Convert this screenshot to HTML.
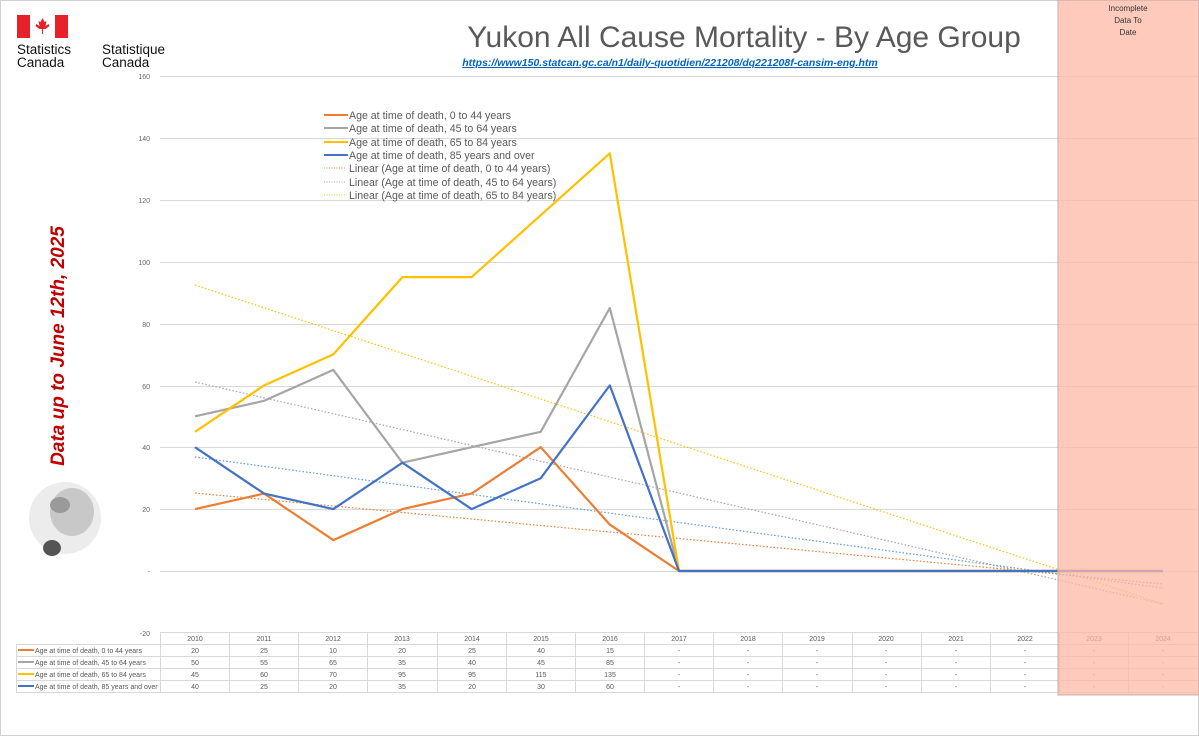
<!DOCTYPE html>
<html><head><meta charset="utf-8"><style>
body{margin:0;background:#fff;}
svg{display:block;font-family:"Liberation Sans",sans-serif;}
</style></head><body>
<svg width="1199" height="736" viewBox="0 0 1199 736" xmlns="http://www.w3.org/2000/svg">
<rect x="0.5" y="0.5" width="1198" height="735" fill="#fff" stroke="#d0d0d0"/>
<!-- logo -->
<rect x="17" y="15" width="13" height="23" fill="#e8202a"/><rect x="55" y="15" width="13" height="23" fill="#e8202a"/>
<path d="M42.5 18 l2 4 2-1 -1 5 3-2 1 2 -4 3 h-2.5 v5 h-1 v-5 h-2.5 l-4-3 1-2 3 2 -1-5 2 1z" fill="#e8202a"/>
<text font-size="13.5" fill="#111"><tspan x="17" y="54">Statistics</tspan><tspan x="17" y="67">Canada</tspan><tspan x="102" y="54">Statistique</tspan><tspan x="102" y="67">Canada</tspan></text>
<text x="744" y="47" font-size="30" fill="#595959" text-anchor="middle">Yukon All Cause Mortality - By Age Group</text>
<text x="670" y="66" font-size="10.5" fill="#0563c1" font-style="italic" font-weight="bold" text-anchor="middle" text-decoration="underline">https://www150.statcan.gc.ca/n1/daily-quotidien/221208/dq221208f-cansim-eng.htm</text>
<text transform="translate(64,346) rotate(-90)" font-size="19" fill="#c00000" font-weight="bold" font-style="italic" text-anchor="middle">Data up to June 12th, 2025</text>
<!-- wolf placeholder -->
<ellipse cx="65" cy="518" rx="36" ry="36" fill="#ececec"/><ellipse cx="72" cy="512" rx="22" ry="24" fill="#c8c8c8"/><ellipse cx="60" cy="505" rx="10" ry="8" fill="#9a9a9a"/><ellipse cx="52" cy="548" rx="9" ry="8" fill="#555"/>
<!-- grid -->
<g stroke="#d9d9d9" stroke-width="1">
<line x1="160" y1="76.5" x2="1199" y2="76.5"/><line x1="160" y1="138.5" x2="1199" y2="138.5"/><line x1="160" y1="200.5" x2="1199" y2="200.5"/><line x1="160" y1="262.5" x2="1199" y2="262.5"/><line x1="160" y1="324.5" x2="1199" y2="324.5"/><line x1="160" y1="386.5" x2="1199" y2="386.5"/><line x1="160" y1="447.5" x2="1199" y2="447.5"/><line x1="160" y1="509.5" x2="1199" y2="509.5"/><line x1="160" y1="571.5" x2="1199" y2="571.5"/>
</g>
<g font-size="7" fill="#666" text-anchor="end">
<text x="150" y="79">160</text><text x="150" y="141">140</text><text x="150" y="203">120</text><text x="150" y="265">100</text><text x="150" y="327">80</text><text x="150" y="389">60</text><text x="150" y="450">40</text><text x="150" y="512">20</text><text x="150" y="574">-</text><text x="150" y="636">-20</text>
</g>
<!-- trends -->
<g stroke-width="1.2" stroke-dasharray="1.5,2" fill="none">
<line x1="195" y1="493" x2="1163" y2="584" stroke="#ed7d31"/>
<line x1="195" y1="382" x2="1163" y2="604" stroke="#a5a5a5"/>
<line x1="195" y1="285" x2="1163" y2="604" stroke="#ffc000"/>
<line x1="195" y1="457" x2="1163" y2="588" stroke="#5b9bd5"/>
</g>
<g fill="none" stroke-width="2.2" stroke-linejoin="round">
<polyline stroke="#ed7d31" points="195,509.1 264.1,493.6 333.3,540.1 402.4,509.1 471.6,493.6 540.7,447.2 609.8,524.6 679,571 1163,571"/>
<polyline stroke="#a5a5a5" points="195,416.3 264.1,400.8 333.3,369.9 402.4,462.7 471.6,447.2 540.7,431.8 609.8,308 679,571 1163,571"/>
<polyline stroke="#ffc000" points="195,431.8 264.1,385.4 333.3,354.4 402.4,277.1 471.6,277.1 540.7,215.2 609.8,153.3 679,571 1163,571"/>
<polyline stroke="#4472c4" points="195,447.2 264.1,493.6 333.3,509.1 402.4,462.7 471.6,509.1 540.7,478.2 609.8,385.4 679,571 1163,571"/>
</g>
<!-- legend -->
<g font-size="10.6" fill="#595959">
<line x1="324" y1="115" x2="348" y2="115" stroke="#ed7d31" stroke-width="2"/><text x="349" y="119">Age at time of death, 0 to 44 years</text>
<line x1="324" y1="128" x2="348" y2="128" stroke="#a5a5a5" stroke-width="2"/><text x="349" y="132">Age at time of death, 45 to 64 years</text>
<line x1="324" y1="142" x2="348" y2="142" stroke="#ffc000" stroke-width="2"/><text x="349" y="146">Age at time of death, 65 to 84 years</text>
<line x1="324" y1="155" x2="348" y2="155" stroke="#4472c4" stroke-width="2"/><text x="349" y="159">Age at time of death, 85 years and over</text>
<line x1="324" y1="168" x2="346" y2="168" stroke="#ed7d31" stroke-dasharray="1,1.5"/><text x="349" y="172">Linear (Age at time of death, 0 to 44 years)</text>
<line x1="324" y1="182" x2="346" y2="182" stroke="#a5a5a5" stroke-dasharray="1,1.5"/><text x="349" y="186">Linear (Age at time of death, 45 to 64 years)</text>
<line x1="324" y1="195" x2="346" y2="195" stroke="#ffc000" stroke-dasharray="1,1.5"/><text x="349" y="199">Linear (Age at time of death, 65 to 84 years)</text>
</g>
<!-- table -->
<g stroke="#d9d9d9" stroke-width="1">
<line x1="160" y1="632.5" x2="1198" y2="632.5"/>
<line x1="16" y1="644.5" x2="1198" y2="644.5"/><line x1="16" y1="656.5" x2="1198" y2="656.5"/><line x1="16" y1="668.5" x2="1198" y2="668.5"/><line x1="16" y1="680.5" x2="1198" y2="680.5"/><line x1="16" y1="692.5" x2="1198" y2="692.5"/>
<line x1="16.5" y1="644" x2="16.5" y2="693"/>
<line x1="160.5" y1="632" x2="160.5" y2="693"/><line x1="229.5" y1="632" x2="229.5" y2="693"/><line x1="298.5" y1="632" x2="298.5" y2="693"/><line x1="367.5" y1="632" x2="367.5" y2="693"/><line x1="437.5" y1="632" x2="437.5" y2="693"/><line x1="506.5" y1="632" x2="506.5" y2="693"/><line x1="575.5" y1="632" x2="575.5" y2="693"/><line x1="644.5" y1="632" x2="644.5" y2="693"/><line x1="713.5" y1="632" x2="713.5" y2="693"/><line x1="782.5" y1="632" x2="782.5" y2="693"/><line x1="852.5" y1="632" x2="852.5" y2="693"/><line x1="921.5" y1="632" x2="921.5" y2="693"/><line x1="990.5" y1="632" x2="990.5" y2="693"/><line x1="1059.5" y1="632" x2="1059.5" y2="693"/><line x1="1128.5" y1="632" x2="1128.5" y2="693"/>
</g>
<g stroke-width="2"><line x1="18" y1="650" x2="34" y2="650" stroke="#ed7d31"/><line x1="18" y1="662" x2="34" y2="662" stroke="#a5a5a5"/><line x1="18" y1="674" x2="34" y2="674" stroke="#ffc000"/><line x1="18" y1="686" x2="34" y2="686" stroke="#4472c4"/></g>
<g font-size="7" fill="#595959">
<text x="35" y="653">Age at time of death, 0 to 44 years</text><text x="35" y="665">Age at time of death, 45 to 64 years</text><text x="35" y="677">Age at time of death, 65 to 84 years</text><text x="35" y="689">Age at time of death, 85 years and over</text>
</g>
<g font-size="7" fill="#595959" text-anchor="middle">
<text y="641"><tspan x="195">2010</tspan><tspan x="264">2011</tspan><tspan x="333">2012</tspan><tspan x="402">2013</tspan><tspan x="472">2014</tspan><tspan x="541">2015</tspan><tspan x="610">2016</tspan><tspan x="679">2017</tspan><tspan x="748">2018</tspan><tspan x="817">2019</tspan><tspan x="886">2020</tspan><tspan x="956">2021</tspan><tspan x="1025">2022</tspan><tspan x="1094">2023</tspan><tspan x="1163">2024</tspan></text>
<text y="653"><tspan x="195">20</tspan><tspan x="264">25</tspan><tspan x="333">10</tspan><tspan x="402">20</tspan><tspan x="472">25</tspan><tspan x="541">40</tspan><tspan x="610">15</tspan><tspan x="679">-</tspan><tspan x="748">-</tspan><tspan x="817">-</tspan><tspan x="886">-</tspan><tspan x="956">-</tspan><tspan x="1025">-</tspan><tspan x="1094">-</tspan><tspan x="1163">-</tspan></text>
<text y="665"><tspan x="195">50</tspan><tspan x="264">55</tspan><tspan x="333">65</tspan><tspan x="402">35</tspan><tspan x="472">40</tspan><tspan x="541">45</tspan><tspan x="610">85</tspan><tspan x="679">-</tspan><tspan x="748">-</tspan><tspan x="817">-</tspan><tspan x="886">-</tspan><tspan x="956">-</tspan><tspan x="1025">-</tspan><tspan x="1094">-</tspan><tspan x="1163">-</tspan></text>
<text y="677"><tspan x="195">45</tspan><tspan x="264">60</tspan><tspan x="333">70</tspan><tspan x="402">95</tspan><tspan x="472">95</tspan><tspan x="541">115</tspan><tspan x="610">135</tspan><tspan x="679">-</tspan><tspan x="748">-</tspan><tspan x="817">-</tspan><tspan x="886">-</tspan><tspan x="956">-</tspan><tspan x="1025">-</tspan><tspan x="1094">-</tspan><tspan x="1163">-</tspan></text>
<text y="689"><tspan x="195">40</tspan><tspan x="264">25</tspan><tspan x="333">20</tspan><tspan x="402">35</tspan><tspan x="472">20</tspan><tspan x="541">30</tspan><tspan x="610">60</tspan><tspan x="679">-</tspan><tspan x="748">-</tspan><tspan x="817">-</tspan><tspan x="886">-</tspan><tspan x="956">-</tspan><tspan x="1025">-</tspan><tspan x="1094">-</tspan><tspan x="1163">-</tspan></text>
</g>
<!-- pink overlay on top -->
<rect x="1058" y="0" width="141" height="695" fill="#fdb8a6" fill-opacity="0.75" stroke="#c8b0a8"/>
<text font-size="8" fill="#333" text-anchor="middle"><tspan x="1128" y="11">Incomplete</tspan><tspan x="1128" y="23">Data To</tspan><tspan x="1128" y="35">Date</tspan></text>
</svg>
</body></html>
